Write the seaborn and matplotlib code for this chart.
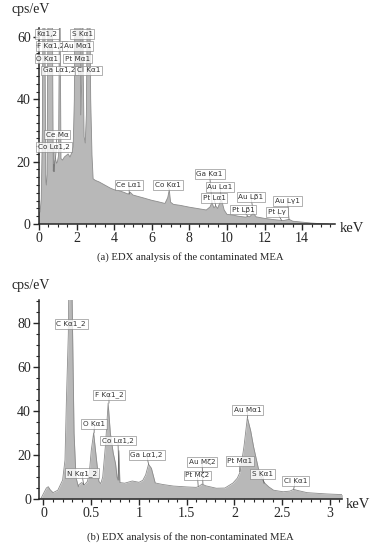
import numpy as np
import pandas as pd
import matplotlib
matplotlib.use("Agg")
import matplotlib.pyplot as plt
import seaborn as sns

# --- (a) contaminated MEA spectrum: energy (keV), intensity (cps/eV)
a_kev = [0.0, 0.02, 0.06, 0.12, 0.18, 0.22, 0.277, 0.32, 0.36, 0.39, 0.43, 0.47,
         0.525, 0.58, 0.62, 0.677, 0.72, 0.76, 0.78, 0.80, 0.84, 0.88, 0.93, 0.98,
         1.04, 1.08, 1.10, 1.13, 1.17, 1.25, 1.35, 1.45, 1.55, 1.65, 1.75, 1.82,
         1.88, 1.95, 2.05, 2.12, 2.18, 2.22, 2.27, 2.31, 2.35, 2.40, 2.46, 2.52,
         2.58, 2.62, 2.68, 2.75, 2.82, 2.88, 3.0, 3.2, 3.5, 3.8, 4.0, 4.2, 4.5,
         4.75, 4.85, 5.0, 5.3, 5.6, 6.0, 6.3, 6.7, 6.85, 6.93, 7.0, 7.15, 7.5,
         8.0, 8.5, 8.9, 9.1, 9.2, 9.3, 9.4, 9.5, 9.6, 9.7, 9.85, 10.0, 10.3,
         10.6, 11.0, 11.1, 11.2, 11.4, 11.55, 12.0, 12.5, 13.0, 13.3, 13.5, 14.0,
         14.5, 15.0, 15.4]
a_cps = [0, 3.5, 4, 8, 30, 80, 200, 60, 14, 12.5, 16, 60,
         150, 70, 80, 200, 60, 17, 19, 16.8, 20, 21, 19.5, 20,
         22, 60, 90, 60, 21, 20.5, 21.5, 22, 22.5, 21.5, 23, 25,
         40, 120, 200, 200, 80, 35, 45, 120, 50, 28, 26, 35,
         80, 150, 90, 40, 22, 14.5, 14, 13.5, 12.5, 11.5, 11, 10.8, 10.2,
         9.6, 10.2, 9.3, 8.8, 8.3, 7.6, 7.2, 6.6, 8.5, 11, 7.0, 6.3, 6.0,
         5.4, 4.9, 4.5, 5.5, 7.0, 5.2, 5.8, 5.0, 6.5, 8.0, 4.5, 3.1, 2.9,
         2.5, 2.2, 2.5, 2.3, 3.5, 2.3, 1.8, 1.4, 1.1, 1.5, 0.9, 0.6,
         0.3, 0.1, 0.0]

a_labels = ["Kα1,2", "S Kα1", "F Kα1,2", "Au Mα1", "O Kα1", "Pt Mα1",
            "Ga Lα1,2", "Cl Kα1", "Ce Mα", "Co Lα1,2", "Ce Lα1", "Co Kα1",
            "Ga Kα1", "Au Lα1", "Pt Lα1", "Au Lβ1", "Pt Lβ1", "Au Lγ1", "Pt Lγ"]
a_label_x = [0.43, 2.29, 0.64, 2.07, 0.45, 2.05, 1.09, 2.62, 0.96, 0.80,
             4.79, 6.86, 9.07, 9.63, 9.31, 11.28, 10.85, 13.22, 12.66]
a_label_y = [61, 61, 57.1, 57.1, 53.1, 53.1, 49.3, 49.3, 28.7, 24.8,
             12.5, 12.5, 16.1, 11.9, 8.25, 8.7, 4.6, 7.4, 3.85]
a_peak_x = [None, None, None, None, None, None, None, None, 0.88, 0.80,
            4.8, 6.93, 9.2, 9.7, 9.4, 11.4, 11.1, 13.3, 12.9]
a_peak_y = [None, None, None, None, None, None, None, None, 21, 16.8,
            9.6, 11, 7.0, 8.0, 5.8, 3.5, 2.5, 1.5, 1.2]

# --- (b) non-contaminated MEA spectrum
b_kev = [-0.03, 0.0, 0.03, 0.05, 0.07, 0.10, 0.15, 0.20, 0.225, 0.24, 0.26,
         0.277, 0.30, 0.32, 0.34, 0.365, 0.37, 0.40, 0.43, 0.46, 0.48, 0.50,
         0.525, 0.55, 0.58, 0.60, 0.62, 0.65, 0.677, 0.70, 0.73, 0.755, 0.77,
         0.78, 0.79, 0.80, 0.85, 0.93, 1.0, 1.04, 1.07, 1.10, 1.13, 1.17, 1.25,
         1.36, 1.50, 1.60, 1.63, 1.66, 1.70, 1.81, 1.90, 1.985, 2.03, 2.06, 2.10,
         2.135, 2.17, 2.20, 2.25, 2.29, 2.32, 2.36, 2.41, 2.51, 2.58, 2.62, 2.66,
         2.76, 2.97, 3.13]
b_cps = [0, 2.5, 5.0, 5.6, 4.2, 2.9, 4.0, 8.6, 17.7, 45, 75,
         150, 90, 30, 10, 5.5, 6.5, 7.5, 6.5, 8, 12, 22,
         30, 20, 8, 7.0, 10, 25, 43.6, 30, 21, 16, 10,
         8.6, 22, 7.5, 7.2, 8.2, 7.6, 8.5, 11, 15.8, 14, 7.3, 6.6,
         5.9, 5.5, 5.3, 5.8, 6.8, 6.0, 4.9, 5.0, 7.3, 9.5, 12.4, 24,
         37, 31, 23.8, 14, 9, 7.1, 5.5, 4.0, 3.3, 3.6, 4.4, 3.9,
         2.9, 2.3, 2.0]

b_labels = ["C Kα1_2", "F Kα1_2", "O Kα1", "Co Lα1,2", "Ga Lα1,2", "N Kα1_2",
            "Au Mα1", "Au Mζ2", "Pt Mζ2", "Pt Mα1", "S Kα1", "Cl Kα1"]
b_label_x = [0.291, 0.686, 0.532, 0.780, 1.081, 0.403, 2.139, 1.660, 1.613,
             2.058, 2.293, 2.637]
b_label_y = [79.6, 47.4, 34.1, 26.6, 20.0, 11.7, 40.5, 16.8, 10.7, 17.3, 11.4, 8.2]
b_peak_x = [None, 0.686, 0.53, 0.79, 1.10, 0.42, 2.135, 1.67, 1.62, 2.055, 2.31, 2.62]
b_peak_y = [None, 43.6, 30, 8.6, 15.8, 6.5, 37, 6.8, 5.8, 12.4, 7.1, 4.4]

sns.set_theme(style="ticks")
plt.rcParams["font.family"] = ["Liberation Serif", "DejaVu Serif"]

FILL = "#b8b8b8"
EDGE = "#8c8c8c"
LBL_FONT = ["DejaVu Sans"]


def draw_panel(ax, kev, cps, labels, lx, ly, px, py, xlim, ylim, xmaj, xmin, ymaj, ymin):
    df = pd.DataFrame({"keV": kev, "cps": cps})
    ax.fill_between(df["keV"], 0, df["cps"], color=FILL, lw=0, zorder=1)
    sns.lineplot(data=df, x="keV", y="cps", ax=ax, color=EDGE, lw=0.6, zorder=2)
    ax.set_xlim(*xlim)
    ax.set_ylim(*ylim)
    ax.set_xlabel("")
    ax.set_ylabel("")
    ax.set_xticks(xmaj)
    ax.set_xticks(xmin, minor=True)
    ax.set_yticks(ymaj)
    ax.set_yticks(ymin, minor=True)
    ax.tick_params(axis="both", which="major", length=4, width=1, labelsize=10, pad=2)
    ax.tick_params(axis="both", which="minor", length=2.5, width=0.8)
    for s in ("top", "right"):
        ax.spines[s].set_visible(False)
    for s in ("left", "bottom"):
        ax.spines[s].set_linewidth(1.1)
    for t, x, y, pxv, pyv in zip(labels, lx, ly, px, py):
        if pxv is not None:
            ax.annotate("", xy=(pxv, pyv), xytext=(x, y), zorder=3,
                        arrowprops=dict(arrowstyle="-", color="#555555", lw=0.5,
                                        shrinkA=0, shrinkB=0))
        ax.text(x, y, t, fontsize=5.2, family=LBL_FONT, ha="center", va="center",
                color="#333333", zorder=4,
                bbox=dict(boxstyle="square,pad=0.25", fc="white", ec="#777777",
                          lw=0.5, alpha=0.8))


fig = plt.figure(figsize=(3.76, 5.5), dpi=100)
ax1 = fig.add_axes([0.1037, 0.5927, 0.787, 0.3564])
ax2 = fig.add_axes([0.1045, 0.0927, 0.805, 0.3618])

draw_panel(ax1, a_kev, a_cps, a_labels, a_label_x, a_label_y, a_peak_x, a_peak_y,
           (0, 15.74), (0, 62.9), np.arange(0, 15, 2), np.arange(0, 15.6, 0.5),
           [0, 20, 40, 60], np.arange(0, 62.6, 2.5))
draw_panel(ax2, b_kev, b_cps, b_labels, b_label_x, b_label_y, b_peak_x, b_peak_y,
           (-0.044, 3.126), (0, 90.5), [0, 0.5, 1, 1.5, 2, 2.5, 3],
           np.arange(0, 3.11, 0.1), [0, 20, 40, 60, 80], np.arange(0, 90.1, 5))
ax2.set_xticklabels(["0", "0.5", "1", "1.5", "2", "2.5", "3"])

fig.text(12 / 376, 1 - 10 / 550, "cps/eV", fontsize=10, ha="left", va="center")
fig.text(12 / 376, 1 - 285 / 550, "cps/eV", fontsize=10, ha="left", va="center")
fig.text(352 / 376, 1 - 229 / 550, "keV", fontsize=10.5, ha="center", va="center")
fig.text(358 / 376, 1 - 505 / 550, "keV", fontsize=10.5, ha="center", va="center")
fig.text(190 / 376, 1 - 257 / 550, "(a) EDX analysis of the contaminated MEA",
         fontsize=7.7, ha="center", va="center")
fig.text(190 / 376, 1 - 537 / 550, "(b) EDX analysis of the non-contaminated MEA",
         fontsize=7.7, ha="center", va="center")

fig.savefig("out.png", dpi=100)
